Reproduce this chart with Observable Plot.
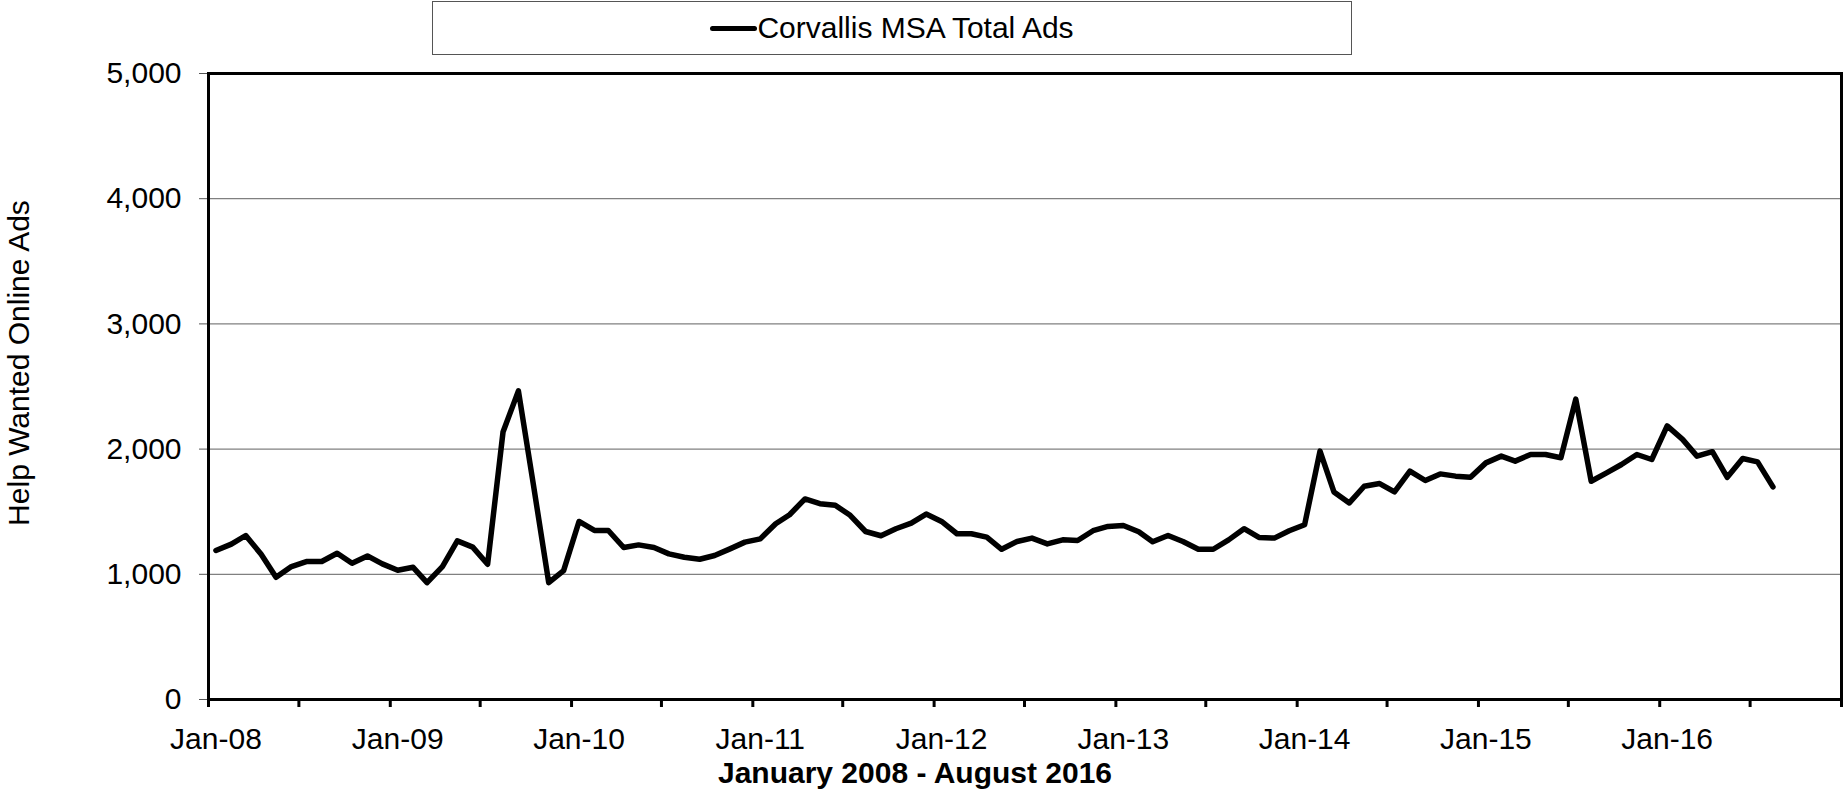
<!DOCTYPE html>
<html>
<head>
<meta charset="utf-8">
<script src="https://cdn.jsdelivr.net/npm/d3@7"></script>
<script src="https://cdn.jsdelivr.net/npm/@observablehq/plot@0.6"></script>
<style>
  html, body { margin: 0; padding: 0; background: #fff; }
  body { font-family: "Liberation Sans", Arial, sans-serif; color: #000; }
  #wrap { width: 1845px; height: 789px; overflow: hidden; position: relative; }
  #legend {
    box-sizing: border-box; margin: 1px 0 0 432px; width: 920px; height: 54px;
    border: 1.5px solid #555; display: flex; align-items: center; justify-content: center;
    font-size: 30px;
  }
  #legend .swatch { width: 47px; height: 5px; background: #000; border-radius: 3px; }
  #caption { width: 1830px; height: 32px; line-height: 32px; text-align: center; font-weight: bold; font-size: 30px; }
  #ylabel {
    position: absolute; left: 19px; top: 363px; font-size: 30px; line-height: 30px; white-space: nowrap;
    transform: translate(-50%, -50%) rotate(-90deg);
  }
</style>
</head>
<body>
<div id="wrap">
  <div id="legend"><span class="swatch"></span><span id="legendText"></span></div>
  <div id="chart"></div>
  <div id="caption"></div>
  <div id="ylabel"></div>
</div>
<script>
// Monthly values, Jan 2008 – Aug 2016
const startYear = 2008;
const ads = [
  1190,1241,1310,1160,976,1062,1102,1102,1168,1088,1147,1083,
  1032,1056,933,1062,1267,1217,1080,2136,2465,1720,933,1029,
  1422,1350,1350,1214,1235,1214,1163,1136,1120,1150,1203,1257,
  1283,1404,1476,1602,1564,1551,1471,1342,1308,1364,1409,1481,
  1422,1324,1324,1297,1200,1262,1289,1243,1275,1270,1348,1382,
  1390,1340,1260,1310,1262,1200,1200,1275,1364,1294,1289,1348,
  1396,1984,1658,1570,1703,1725,1658,1824,1749,1802,1784,1775,
  1890,1944,1904,1957,1957,1931,2399,1743,1810,1877,1957,1917,
  2185,2078,1944,1979,1775,1925,1898,1698
];
const tickLabels = ["Jan-08","Jan-09","Jan-10","Jan-11","Jan-12","Jan-13","Jan-14","Jan-15","Jan-16"];
const yTicks = [0, 1000, 2000, 3000, 4000, 5000];
const gridValues = [1000, 2000, 3000, 4000];
const seriesName = "Corvallis MSA Total Ads";
const yLabel = "Help Wanted Online Ads";
const xTitle = "January 2008 - August 2016";

document.getElementById("legendText").textContent = seriesName;
document.getElementById("caption").textContent = xTitle;
document.getElementById("ylabel").textContent = yLabel;

const monthDate = (i) => new Date(Date.UTC(startYear, i, 16));
const halfYearTicks = d3.range(0, 109, 6).map(i => new Date(Date.UTC(startYear, i, 1)));

const chart = Plot.plot({
  width: 1845,
  height: 702,
  marginLeft: 208,
  marginRight: 4,
  marginTop: 18,
  marginBottom: 58,
  style: { fontFamily: "Liberation Sans, Arial, sans-serif", fontSize: "30px", color: "black", background: "white" },
  x: { type: "utc", domain: [new Date(Date.UTC(2008, 0, 1)), new Date(Date.UTC(2017, 0, 1))] },
  y: { domain: [0, 5000] },
  marks: [
    Plot.gridY(gridValues, { stroke: "#808080", strokeOpacity: 1, strokeWidth: 1.3 }),
    Plot.axisY(yTicks, { tickSize: 9, tickPadding: 18, tickFormat: d3.format(","), stroke: "#555", fontSize: 30, label: null }),
    Plot.axisX(halfYearTicks, { tickSize: 8, strokeWidth: 3, stroke: "black", tickFormat: () => "", label: null }),
    Plot.text(tickLabels, { x: (d, i) => new Date(Date.UTC(startYear + i, 0, 16)), frameAnchor: "bottom", lineAnchor: "top", dy: 28, fontSize: 30 }),
    Plot.line(ads, { x: (d, i) => monthDate(i), y: d => d, stroke: "black", strokeWidth: 5.5 }),
    Plot.frame({ stroke: "black", strokeWidth: 3 })
  ]
});
document.getElementById("chart").appendChild(chart);
</script>
</body>
</html>
